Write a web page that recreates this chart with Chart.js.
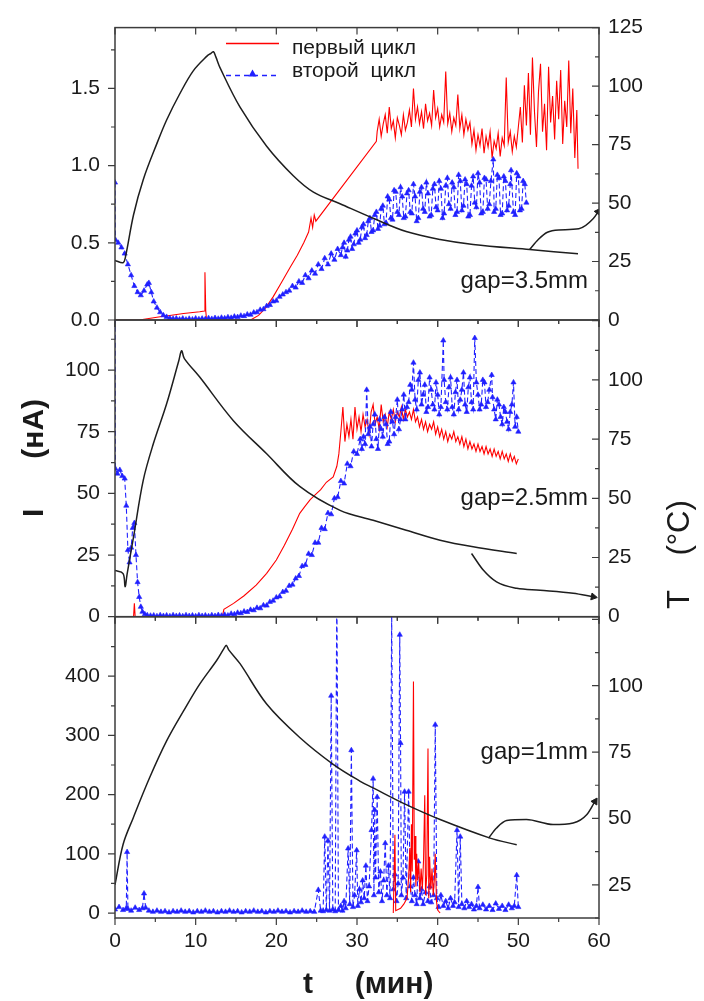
<!DOCTYPE html>
<html>
<head>
<meta charset="utf-8">
<script src="https://cdn.jsdelivr.net/npm/chart.js@4.4.1/dist/chart.umd.min.js"></script>
<style>
  html, body { margin: 0; padding: 0; background: #fff; }
  #wrap { position: relative; width: 704px; height: 1001px; }
  #wrap canvas { position: absolute; left: 0; top: 0; }
</style>
</head>
<body>
<div id="wrap">
  <canvas id="c1" width="704" height="1001"></canvas>
  <canvas id="c2" width="704" height="1001"></canvas>
  <canvas id="c3" width="704" height="1001"></canvas>
</div>
<script>
'use strict'
{
  // ---- data: [t (мин), value] ----
  const legendLabels = ['первый цикл', 'второй  цикл'];
  const gapLabels = ['gap=3.5mm', 'gap=2.5mm', 'gap=1mm'];

  const xTicks = [0, 10, 20, 30, 40, 50, 60];
  const p1LeftTicks = [0, 0.5, 1.0, 1.5];
  const p1RightTicks = [0, 25, 50, 75, 100, 125];
  const p2LeftTicks = [0, 25, 50, 75, 100];
  const p2RightTicks = [0, 25, 50, 75, 100];
  const p3LeftTicks = [0, 100, 200, 300, 400];
  const p3RightTicks = [25, 50, 75, 100];

  // panel 1 (gap=3.5mm), current in нА
  const p1Red = [
    [0,0],[3,0],[4,0.008],[5.6,0.021],[7,0.031],[8.5,0.042],[10.5,0.053],[11.1,0.058],[11.15,0.31],[11.25,0.06],
    [11.35,0],[14,0],[16.8,0],[17.8,0.03],[18.7,0.08],[19.6,0.15],[20.6,0.24],[21.7,0.34],[22.6,0.42],[23.4,0.5],
    [24,0.57],[24.3,0.66],[24.5,0.6],[24.7,0.68],[24.9,0.64],[32.4,1.157],
    [32.5,1.22],[32.75,1.30],[33,1.19],[33.25,1.27],[33.5,1.33],[33.75,1.21],[34,1.38],[34.25,1.24],[34.5,1.29],[34.75,1.18],
    [35,1.31],[35.25,1.26],[35.5,1.20],[35.75,1.33],[36,1.23],[36.25,1.28],[36.5,1.36],[36.75,1.25],[37,1.50],[37.25,1.30],
    [37.5,1.38],[37.75,1.27],[38,1.35],[38.25,1.24],[38.5,1.40],[38.75,1.29],[39,1.34],[39.25,1.26],[39.5,1.49],[39.75,1.31],
    [40,1.37],[40.25,1.25],[40.5,1.33],[40.75,1.28],[41,1.61],[41.25,1.27],[41.5,1.34],[41.75,1.22],[42,1.31],[42.25,1.26],
    [42.5,1.46],[42.75,1.24],[43,1.33],[43.25,1.20],[43.5,1.30],[43.75,1.23],[44,1.28],[44.25,1.14],[44.5,1.23],[44.75,1.10],
    [45,1.20],[45.25,1.13],[45.5,1.24],[45.75,1.08],[46,1.19],[46.25,1.12],[46.5,1.22],[46.75,1.05],[47,1.16],[47.25,1.11],
    [47.5,1.21],[47.75,1.06],[48,1.18],[48.25,1.13],[48.5,1.57],[48.75,1.15],[49,1.22],[49.25,1.09],[49.5,1.19],[49.75,1.12],
    [50,1.25],[50.25,1.38],[50.5,1.15],[50.75,1.52],[51,1.26],[51.25,1.60],[51.5,1.20],[51.75,1.70],[52,1.35],[52.25,1.12],
    [52.5,1.48],[52.75,1.66],[53,1.22],[53.25,1.40],[53.5,1.10],[53.75,1.64],[54,1.28],[54.25,1.45],[54.5,1.17],[54.75,1.55],
    [55,1.30],[55.25,1.62],[55.5,1.14],[55.75,1.42],[56,1.25],[56.25,1.68],[56.5,1.21],[56.75,1.50],[57,1.05],[57.25,1.36],[57.4,0.98]
  ];
  const p1Blue = [
    [0,0.89],[0.05,0.52],[0.4,0.50],[0.8,0.47],[1.2,0.43],[1.6,0.36],[2.0,0.29],[2.4,0.22],[2.8,0.18],[3.2,0.16],
    [3.6,0.19],[4.0,0.23],[4.2,0.24],[4.5,0.18],[4.8,0.12],[5.2,0.08],[5.6,0.05],[6.0,0.03],[6.4,0.02],[6.8,0.012],
    [7.2,0.008],[7.6,0.01],[8.0,0.004],[8.4,0.009],[8.8,0.003],[9.2,0.008],[9.6,0.004],[10.0,0.01],[10.4,0.005],[10.8,0.009],
    [11.2,0.006],[11.6,0.012],[12.0,0.007],[12.4,0.013],[12.8,0.008],[13.2,0.015],[13.6,0.011],[14.0,0.018],[14.4,0.014],[14.8,0.022],
    [15.2,0.019],[15.6,0.028],[16.0,0.025],[16.4,0.036],[16.8,0.034],[17.2,0.048],[17.6,0.05],[18.0,0.066],[18.4,0.07],[18.8,0.09],
    [19.2,0.097],[19.6,0.12],[20.0,0.125],[20.4,0.15],[20.8,0.165],[21.2,0.18],[21.6,0.19],[22.0,0.22],[22.4,0.21],[22.8,0.25],
    [23.2,0.24],[23.6,0.29],[24.0,0.27],[24.4,0.32],[24.8,0.30],[25.2,0.36],[25.6,0.33],[26.0,0.40],[26.4,0.36],[26.8,0.43],
    [27.2,0.39],[27.6,0.46],
    [28.0,0.42],[28.2,0.47],[28.4,0.50],[28.6,0.41],[28.8,0.45],[29.0,0.52],[29.2,0.54],[29.4,0.46],[29.6,0.49],[29.8,0.56],
    [30.0,0.58],[30.2,0.50],[30.4,0.52],[30.6,0.60],[30.8,0.62],[31.0,0.53],[31.2,0.55],[31.4,0.64],[31.6,0.66],[31.8,0.57],
    [32.0,0.58],[32.2,0.68],[32.4,0.70],[32.6,0.59],[32.8,0.61],[33.0,0.72],[33.2,0.74],[33.4,0.62],[33.6,0.63],[33.8,0.80],
    [34.0,0.78],[34.2,0.66],[34.4,0.65],[34.6,0.84],[34.8,0.83],[35.0,0.70],[35.2,0.68],[35.4,0.86],[35.6,0.80],[35.8,0.66],
    [36.0,0.67],[36.2,0.82],[36.4,0.84],[36.6,0.70],[36.8,0.69],[37.0,0.88],[37.2,0.80],[37.4,0.64],[37.6,0.66],[37.8,0.83],
    [38.0,0.86],[38.2,0.72],[38.4,0.70],[38.6,0.89],[38.8,0.82],[39.0,0.67],[39.2,0.68],[39.4,0.85],[39.6,0.88],[39.8,0.73],
    [40.0,0.71],[40.2,0.90],[40.4,0.85],[40.6,0.66],[40.8,0.69],[41.0,0.87],[41.2,0.92],[41.4,0.75],[41.6,0.72],[41.8,0.89],
    [42.0,0.86],[42.2,0.68],[42.4,0.70],[42.6,0.94],[42.8,0.90],[43.0,0.71],[43.2,0.74],[43.4,0.91],[43.6,0.88],[43.8,0.67],
    [44.0,0.68],[44.2,0.87],[44.4,0.93],[44.6,0.76],[44.8,0.73],[45.0,0.95],[45.2,0.89],[45.4,0.69],[45.6,0.70],[45.8,0.92],
    [46.0,0.91],[46.2,0.72],[46.4,0.75],[46.6,0.90],[46.9,1.04],[47.0,0.70],[47.2,0.72],[47.4,0.94],[47.6,0.92],[47.8,0.68],
    [48.0,0.69],[48.2,0.93],[48.4,0.90],[48.6,0.71],[48.8,0.74],[49.0,0.88],[49.1,0.97],[49.4,0.70],[49.6,0.68],[49.8,0.95],
    [50.0,0.93],[50.2,0.71],[50.4,0.72],[50.6,0.90],[50.8,0.88],[51.0,0.76]
  ];
  const p1Temp = [
    [0,25.5],[1.0,24.5],[1.3,27],[2.3,45],[3.5,60],[5.2,75.5],[6.4,85.5],[8.0,96.5],[9.7,106.5],[11.4,112.8],
    [11.9,114],[12.2,114.7],[12.5,112.5],[13.0,108],[15.5,91],[18.8,74.3],[22.1,61.7],[24.6,54.7],[27.9,49.7],[32,43.5],
    [36.1,37.8],[40.3,34.4],[44.4,32.3],[51.4,30.1],[57.4,28.3]
  ];
  const p1Arrow = [[51.4,30.1],[52.5,34.5],[53.6,37.5],[55,38.5],[57.5,39],[59.3,43.4],[59.9,46.3]];

  // panel 2 (gap=2.5mm)
  const p2Red = [
    [0,0],[2.3,0],[2.4,5.4],[2.5,0],[8,0],[13.3,0],[13.5,3],[14.7,5.4],[16,8.5],[17.5,12.8],
    [18.8,17.6],[20,23],[21,29],[22,35.5],[22.9,41.9],[23.5,44.5],[24.2,47.5],[25,50],[25.5,51.5],[26.2,54.5],
    [27.05,56.7],[27.5,61],
    [27.75,66],[28,75],[28.25,85],[28.5,71],[28.75,78],[29,73],[29.25,80],[29.5,72],[29.75,85],[30,76],
    [30.25,81],[30.5,75],[30.75,82],[31,77],[31.25,80],[31.5,74],[31.75,83],[32,86],[32.25,78],[32.5,81],
    [32.75,76],[33,86],[33.25,79],[33.5,82],[33.75,77],[34,83],[34.25,80],[34.5,84],[34.75,79],[35,83],
    [35.25,81],[35.5,85],[35.75,80],[36,84],[36.25,81],[36.5,83],[36.75,80],[37,84],[37.25,79],[37.5,81],
    [37.75,77],[38,80],[38.25,76],[38.5,79],[38.75,75],[39,78],[39.25,76],[39.5,79],[39.75,74],[40,77],
    [40.25,73],[40.5,76],[40.75,72],[41,75],[41.25,71],[41.5,74],[41.75,72],[42,75],[42.25,71],[42.5,73],
    [42.75,70],[43,73],[43.25,69],[43.5,72],[43.75,68],[44,71],[44.25,68],[44.5,70],[44.75,67],[45,70],
    [45.25,67],[45.5,69],[45.75,66],[46,69],[46.25,66],[46.5,68],[46.75,65],[47,68],[47.25,65],[47.5,67],
    [47.75,64],[48,67],[48.25,64],[48.5,66],[48.75,63],[49,66],[49.25,63],[49.5,65],[49.75,62],[50,64]
  ];
  const p2Blue = [
    [0,150],[0.05,60],[0.3,58],[0.6,59.5],[0.9,57],[1.2,56],[1.4,45],[1.6,27],[1.8,22],[2.0,28],
    [2.2,36],[2.4,38],[2.6,25],[2.8,14],[3.0,8],[3.2,4],[3.4,2],[3.7,1],[4.0,0.6],[4.4,0.4],
    [4.8,0.5],[5.2,0.2],[5.6,0.6],[6.0,0.3],[6.4,0.5],[6.8,0.2],[7.2,0.6],[7.6,0.3],[8.0,0.5],[8.4,0.2],
    [8.8,0.6],[9.2,0.3],[9.6,0.5],[10.0,0.2],[10.4,0.6],[10.8,0.3],[11.2,0.5],[11.6,0.2],[12.0,0.6],[12.4,0.3],
    [12.8,0.7],[13.2,0.4],[13.6,0.8],[14.0,0.5],[14.4,1.2],[14.8,1.0],[15.2,1.6],[15.6,1.4],[16.0,2.1],[16.4,1.9],
    [16.8,2.8],[17.2,2.6],[17.6,3.6],[18.0,3.4],[18.4,4.6],[18.8,4.5],[19.2,6],[19.6,6.5],[20.0,7.8],[20.4,8.2],
    [20.8,10],[21.2,10.5],[21.6,12.5],[22.0,13],[22.4,15.5],[22.8,16.5],[23.2,20.5],[23.6,21],[24.0,25.5],[24.4,25],
    [24.8,30],[25.2,30],[25.6,36],[26.0,35.5],[26.4,42],[26.8,41.5],[27.2,48],[27.6,48.5],[28.0,55],[28.4,54],
    [28.8,62],[29.2,61],[29.6,67],[30.0,66],[30.4,72],[30.6,68],
    [30.8,73],[31.0,70],[31.2,92],[31.4,74],[31.6,77],[31.8,69],[32.0,78],[32.2,82],[32.4,72],[32.6,68],
    [32.8,80],[33.0,76],[33.2,73],[33.4,81],[33.6,78],[33.8,70],[34.0,71],[34.2,83],[34.4,79],[34.6,74],
    [34.8,81],[35.0,88],[35.2,76],[35.4,80],[35.6,84],[35.8,90],[36.0,80],[36.2,85],[36.4,87],[36.6,94],
    [36.8,92],[37.0,103],[37.2,88],[37.4,84],[37.6,96],[37.8,99],[38.0,86],[38.2,90],[38.4,94],[38.6,83],
    [38.8,85],[39.0,97],[39.2,92],[39.4,86],[39.6,84],[39.8,95],[40.0,90],[40.2,82],[40.4,85],[40.7,112],
    [40.8,96],[41.0,87],[41.2,84],[41.4,93],[41.6,97],[41.8,85],[42.0,82],[42.2,91],[42.4,96],[42.6,84],
    [42.8,88],[43.0,92],[43.2,99],[43.4,86],[43.6,83],[43.8,93],[44.0,97],[44.2,87],[44.4,84],[44.6,113],
    [44.8,95],[45.0,90],[45.2,84],[45.4,86],[45.6,96],[45.8,95],[46.0,85],[46.2,87],[46.4,92],[46.7,98],
    [46.8,89],[47.0,84],[47.2,80],[47.4,88],[47.6,86],[47.8,81],[48.0,78],[48.2,85],[48.4,83],[48.6,79],
    [48.8,76],[49.0,83],[49.2,86],[49.4,95],[49.6,77],[49.8,81],[50.0,75]
  ];
  const p2Temp = [
    [0,19.5],[1.0,18.2],[1.25,12.6],[1.5,18],[2.3,33.7],[3.5,57.6],[4.75,73],[6.4,89.9],[7.9,108],[8.26,112.3],
    [8.6,109],[10.5,101.2],[14.65,82.9],[18.8,68.8],[22.9,55],[27.9,44.9],[32,40.7],[36.1,36.5],[40.3,32.3],[44.4,29.5],[49.8,26.7]
  ];
  const p2Arrow = [[44.2,26.7],[45.65,19.7],[47.3,14.7],[49.8,12.0],[52.7,11.2],[56.8,9.9],[59.3,8.4]];

  // panel 3 (gap=1mm)
  const p3Red = [
    [34.5,0],[34.7,132],[34.8,4],[35.4,8],[35.8,15],[36.2,25],
    [36.4,60],[36.55,110],[36.65,35],[36.75,150],[36.85,70],[37.0,391],[37.1,90],[37.2,130],[37.3,45],[37.4,100],
    [37.5,55],[37.65,85],[37.8,35],[37.95,75],[38.1,40],[38.25,90],[38.4,199],[38.5,30],[38.65,65],[38.8,278],
    [38.9,25],[39.0,95],[39.15,40],[39.3,75],[39.45,30],[39.6,60],[39.7,100],[39.85,20],[40.0,5],[40.3,0]
  ];
  const p3Blue = [
    [0,6],[0.5,10],[1.0,5],[1.4,8],[1.5,103],[1.6,7],[2.0,4],[2.5,9],[3.0,5],[3.4,8],
    [3.6,33],[3.8,9],[4.2,4],[4.7,2],[5.2,4],[5.7,2],[6.2,3],[6.7,1],[7.2,3],[7.7,2],
    [8.2,4],[8.7,2],[9.2,3],[9.7,1],[10.2,3],[10.7,2],[11.2,4],[11.7,2],[12.2,3],[12.7,1],
    [13.2,3],[13.7,2],[14.2,4],[14.7,2],[15.2,3],[15.7,1],[16.2,3],[16.7,2],[17.2,4],[17.7,2],
    [18.2,3],[18.7,1],[19.2,3],[19.7,2],[20.2,4],[20.7,2],[21.2,3],[21.7,1],[22.2,3],[22.7,2],
    [23.2,4],[23.7,2],[24.2,3],[24.7,2],[25.2,39],[25.5,4],[25.8,3],[26.0,129],[26.2,5],[26.4,122],
    [26.6,4],[26.8,367],[27.0,6],[27.3,3],[27.5,560],[27.7,5],[28.0,12],[28.2,4],[28.4,20],[28.6,8],
    [28.9,109],[29.1,15],[29.3,275],[29.5,10],[29.7,30],[29.96,106],[30.1,12],[30.3,40],[30.5,18],[30.7,55],
    [30.9,25],[31.1,80],[31.3,20],[31.5,45],[31.8,140],[32.0,227],[32.1,30],[32.2,174],[32.3,60],[32.5,196],
    [32.7,35],[32.9,70],[33.1,20],[33.3,55],[33.5,118],[33.7,30],[33.9,80],[34.1,25],[34.3,505],[34.5,40],
    [34.7,65],[34.9,20],[35.1,50],[35.3,470],[35.4,287],[35.5,30],[35.7,60],[35.9,205],[36.1,25],[36.4,205],
    [36.6,45],[36.8,20],[37.0,60],[37.2,30],[37.4,15],[37.6,87],[37.8,25],[38.0,40],[38.2,15],[38.5,35],
    [38.8,20],[39.0,45],[39.2,18],[39.5,30],[39.7,318],[39.9,25],[40.1,10],[40.4,30],[40.7,12],[41.0,20],
    [41.3,8],[41.6,25],[41.9,12],[42.1,18],[42.4,140],[42.6,10],[42.8,129],[43.0,15],[43.3,8],[43.6,20],
    [43.9,10],[44.2,15],[44.5,6],[44.8,12],[45.0,44],[45.2,8],[45.6,14],[46.0,6],[46.4,12],[46.8,5],
    [47.2,16],[47.6,7],[48.0,12],[48.4,5],[48.8,14],[49.2,8],[49.5,12],[49.8,64],[50.0,10]
  ];
  const p3Temp = [
    [0,25],[1.0,40.2],[2.27,50.3],[4.3,65.4],[6.4,79.2],[8.5,90.5],[10.5,100.6],[12.6,109.5],[13.5,114],[13.8,115.2],
    [14.1,113.5],[15.5,108.3],[18.8,93.1],[22.9,80.5],[27.05,70.4],[30.4,64],[32,61.5],[36.1,55.2],[40.3,49.6],[46.5,42.6],[49.8,40.1]
  ];
  const p3Arrow = [[46.3,42.6],[47.3,46.4],[48.55,49.2],[51.0,49.6],[54.3,47.7],[56.8,48.3],[58.5,51.5],[59.5,56.4]];

  // ---- styles ----
  const FONT = "'Liberation Sans', Arial, sans-serif";
  const INK = '#1a1a1a';
  const RED = '#ff0000';
  const BLUE = '#2020ff';
  const BLACK = '#1e1e1e';

  const toXY = pairs => pairs.map(([x, y]) => ({ x, y }));

  const redSet = (d, order) => ({
    data: toXY(d), yAxisID: 'yl', borderColor: RED, borderWidth: 1.1, pointRadius: 0, order,
  });
  const blueSet = (d, order) => ({
    data: toXY(d), yAxisID: 'yl', borderColor: BLUE, borderWidth: 1.1, borderDash: [5, 3],
    pointStyle: 'triangle', pointRadius: 3, pointBorderWidth: 0.6,
    pointBackgroundColor: BLUE, pointBorderColor: BLUE, order,
  });
  const tempSet = d => ({
    data: toXY(d), yAxisID: 'yr', borderColor: BLACK, borderWidth: 1.5, pointRadius: 0, tension: 0.35, order: 0,
  });
  const arrowSet = (d, angle) => ({
    data: toXY(d), yAxisID: 'yr', borderColor: BLACK, borderWidth: 1.5, cubicInterpolationMode: 'monotone',
    pointStyle: 'triangle', pointBackgroundColor: BLACK, pointBorderColor: BLACK, pointBorderWidth: 1,
    pointRadius: d.map((p, i) => i === d.length - 1 ? 4 : 0),
    pointRotation: angle, order: 0,
  });

  // inward / outward tick marks and the frame
  const frame = {
    id: 'frame',
    afterDatasetsDraw(chart, args, o) {
      const { ctx, chartArea: a, scales } = chart;
      const isMajor = (v, m) => Math.abs(v / m - Math.round(v / m)) < 1e-6;
      ctx.save();
      ctx.strokeStyle = '#3c3c3c';
      ctx.lineWidth = 1.5;
      ctx.strokeRect(a.left, a.top, a.right - a.left, a.bottom - a.top);
      ctx.lineWidth = 1.2;
      ctx.beginPath();
      for (let i = 0; i <= 12; i++) {
        const v = i * 5, x = scales.x.getPixelForValue(v);
        const len = isMajor(v, 10) ? 7 : 4;
        ctx.moveTo(x, a.top); ctx.lineTo(x, a.top + len);
        ctx.moveTo(x, a.bottom); ctx.lineTo(x, a.bottom + len);
      }
      const side = (scale, s, x0) => {
        for (let i = 0; s.from + i * s.step <= s.to + 1e-9; i++) {
          const v = s.from + i * s.step, y = scale.getPixelForValue(v);
          ctx.moveTo(x0, y); ctx.lineTo(x0 - (isMajor(v, s.major) ? 7 : 4), y);
        }
      };
      side(scales.yl, o.left, a.left);
      side(scales.yr, o.right, a.right);
      ctx.stroke();
      ctx.restore();
    }
  };

  // texts: gap label, legend, axis titles
  const notes = {
    id: 'notes',
    afterDraw(chart, args, o) {
      const { ctx, chartArea: a, scales } = chart;
      ctx.save();
      ctx.fillStyle = INK;
      if (o.gap) {
        ctx.font = `24px ${FONT}`;
        ctx.textAlign = 'right';
        ctx.fillText(o.gap.text, a.right - 11, scales.yr.getPixelForValue(o.gap.at));
      }
      if (o.legend) {
        const x0 = a.left + 111, x1 = a.left + 164;
        ctx.lineWidth = 1.5;
        ctx.strokeStyle = RED;
        ctx.beginPath(); ctx.moveTo(x0, a.top + 16); ctx.lineTo(x1, a.top + 16); ctx.stroke();
        ctx.strokeStyle = BLUE;
        ctx.setLineDash([5, 4]);
        ctx.beginPath(); ctx.moveTo(x0, a.top + 48); ctx.lineTo(x1, a.top + 48); ctx.stroke();
        ctx.setLineDash([]);
        ctx.fillStyle = BLUE;
        const cx = (x0 + x1) / 2, cy = a.top + 46;
        ctx.beginPath(); ctx.moveTo(cx, cy - 4); ctx.lineTo(cx + 4, cy + 3); ctx.lineTo(cx - 4, cy + 3); ctx.closePath(); ctx.fill();
        ctx.fillStyle = INK;
        ctx.font = `21px ${FONT}`;
        ctx.textAlign = 'left';
        ctx.fillText(o.legend[0], a.left + 177, a.top + 26);
        ctx.fillText(o.legend[1], a.left + 177, a.top + 49);
      }
      if (o.titles) {
        ctx.textAlign = 'left';
        ctx.font = `bold 30px ${FONT}`;
        ctx.fillText(o.titles.x, 303, 993);
        ctx.save();
        ctx.translate(43, 517); ctx.rotate(-Math.PI / 2);
        ctx.fillText(o.titles.yl, 0, 0);
        ctx.restore();
        ctx.save();
        ctx.font = `31px ${FONT}`;
        ctx.translate(689, 609); ctx.rotate(-Math.PI / 2);
        ctx.fillText(o.titles.yr, 0, 0);
        ctx.restore();
      }
      ctx.restore();
    }
  };

  const tickFont = { family: FONT, size: 21 };

  function makePanel(id, p) {
    return new Chart(document.getElementById(id), {
      type: 'line',
      data: { datasets: p.datasets },
      options: {
        responsive: false,
        animation: false,
        events: [],
        layout: { padding: { top: p.top, bottom: p.bottom, left: 0, right: 0 } },
        plugins: {
          legend: { display: false },
          tooltip: { enabled: false },
          frame: p.frame,
          notes: p.notes,
        },
        scales: {
          x: {
            type: 'linear', min: 0, max: 60, display: p.showX,
            afterBuildTicks: s => { s.ticks = xTicks.map(v => ({ value: v })); },
            afterFit: s => { if (p.showX) s.height = 83; },
            ticks: { font: tickFont, color: INK, padding: 11, maxRotation: 0 },
            grid: { display: false, drawTicks: false },
            border: { display: false },
          },
          yl: {
            position: 'left', min: p.yl[0], max: p.yl[1],
            afterBuildTicks: s => { s.ticks = p.leftTicks.map(v => ({ value: v })); },
            afterFit: s => { s.width = 115; },
            ticks: { font: tickFont, color: INK, padding: 15, callback: p.leftFmt || (v => String(v)) },
            grid: { display: false, drawTicks: false },
            border: { display: false },
          },
          yr: {
            position: 'right', min: p.yr[0], max: p.yr[1],
            afterBuildTicks: s => { s.ticks = p.rightTicks.map(v => ({ value: v })); },
            afterFit: s => { s.width = 105; },
            ticks: { font: tickFont, color: INK, padding: 9, callback: v => String(v) },
            grid: { display: false, drawTicks: false },
            border: { display: false },
          },
        },
      },
      plugins: [frame, notes],
    });
  }

  makePanel('c1', {
    top: 22.7, bottom: 681, showX: false,
    yl: [0, 1.894], yr: [0, 125],
    leftTicks: p1LeftTicks, rightTicks: p1RightTicks,
    leftFmt: v => Number(v).toFixed(1),
    datasets: [redSet(p1Red, 2), blueSet(p1Blue, 1), tempSet(p1Temp), arrowSet(p1Arrow, 35)],
    frame: { left: { from: 0, to: 1.75, step: 0.25, major: 0.5 }, right: { from: 0, to: 125, step: 12.5, major: 25 } },
    notes: { gap: { text: gapLabels[0], at: 13.5 }, legend: legendLabels },
  });

  makePanel('c2', {
    top: 320, bottom: 384.3, showX: false,
    yl: [0, 120.3], yr: [0, 125.3],
    leftTicks: p2LeftTicks, rightTicks: p2RightTicks,
    datasets: [redSet(p2Red, 2), blueSet(p2Blue, 1), tempSet(p2Temp), arrowSet(p2Arrow, 100)],
    frame: { left: { from: 0, to: 112.5, step: 12.5, major: 25 }, right: { from: 0, to: 125, step: 12.5, major: 25 } },
    notes: { gap: { text: gapLabels[1], at: 47 } },
  });

  makePanel('c3', {
    top: 616.7, bottom: 0, showX: true,
    yl: [-8.4, 500.5], yr: [12.5, 126],
    leftTicks: p3LeftTicks, rightTicks: p3RightTicks,
    datasets: [redSet(p3Red, 1), blueSet(p3Blue, 2), tempSet(p3Temp), arrowSet(p3Arrow, 32)],
    frame: { left: { from: 0, to: 450, step: 50, major: 100 }, right: { from: 12.5, to: 125, step: 12.5, major: 25 } },
    notes: {
      gap: { text: gapLabels[2], at: 72.3 },
      titles: { x: 't     (мин)', yl: 'I      (нА)', yr: 'T    (°C)' },
    },
  });
}
</script>
</body>
</html>
